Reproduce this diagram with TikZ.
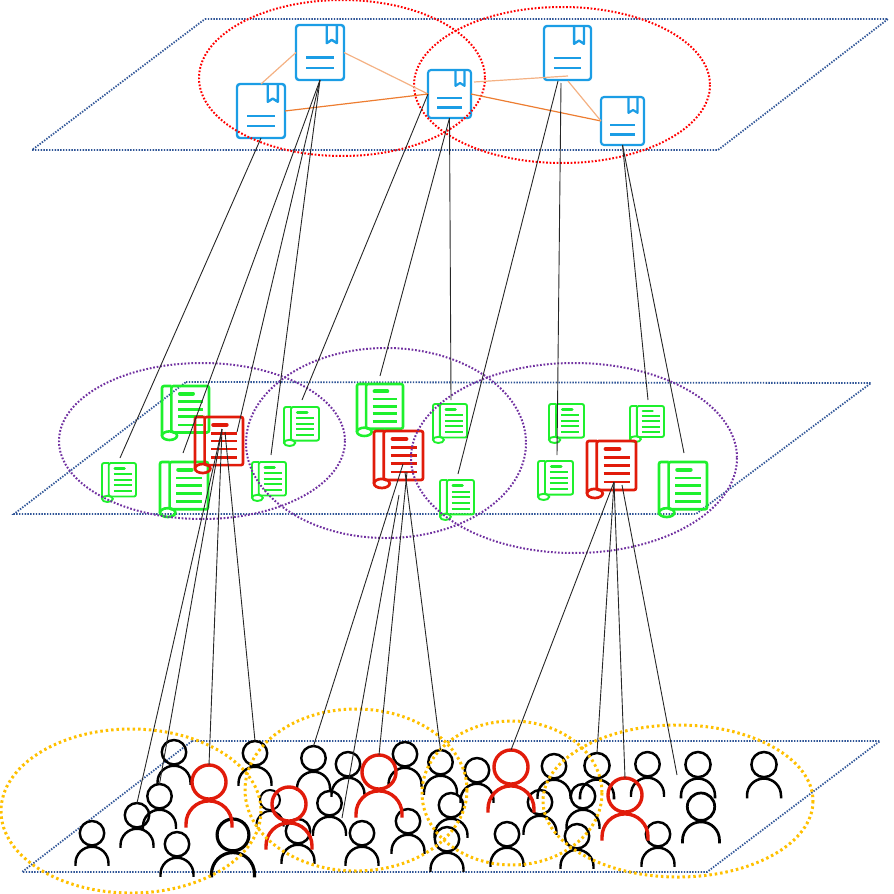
\documentclass[tikz,border=0pt]{standalone}
\definecolor{planeblue}{RGB}{47,85,151}
\definecolor{bookblue}{RGB}{27,157,229}
\definecolor{scrollgreen}{RGB}{30,240,45}
\definecolor{iconred}{RGB}{225,27,10}
\definecolor{ringpurple}{RGB}{112,48,160}
\definecolor{ringgold}{RGB}{255,192,0}
\definecolor{linklight}{RGB}{244,177,131}
\definecolor{linkdark}{RGB}{237,125,49}
\tikzset{
  plane/.style={draw=planeblue,line width=1.8pt,dash pattern=on 1.4pt off 1.4pt},
  redring/.style={draw=red,line width=2pt,dash pattern=on 1.7pt off 1.8pt},
  purplering/.style={draw=ringpurple,line width=2pt,dash pattern=on 1.7pt off 1.8pt},
  goldring/.style={draw=ringgold,line width=3pt,dash pattern=on 2.5pt off 2.9pt},
  softlink/.style={linklight,line width=1.2pt},
  hardlink/.style={linkdark,line width=1.2pt},
  drop/.style={black!85,line width=0.9pt},
  iconbox/.style={inner sep=0pt,outer sep=0pt}
}
% book: name, left, top, width, height
\newcommand{\bookicon}[5]{
  \node[iconbox,minimum width=#4pt,minimum height=#5pt] (#1) at (#2+#4/2,#3+#5/2) {};
  \begin{scope}[shift={(#2,#3)},xscale=#4,yscale=#5,bookblue,line width=#4/20*1pt]
    \draw[rounded corners=3pt] (0,0) rectangle (1,1);
    \draw[line join=round] (.64,0) -- (.64,.33) -- (.745,.27) -- (.85,.33) -- (.85,0);
    \draw (.21,.59) -- (.79,.59);
    \draw (.21,.78) -- (.79,.78);
  \end{scope}
}
% scroll: name, left, top, width, height, colour
\newcommand{\scrollicon}[6]{
  \node[iconbox,minimum width=#4pt,minimum height=#5pt] (#1) at (#2+#4/2,#3+#5/2) {};
  \begin{scope}[shift={(#2,#3)},xscale=#4,yscale=#5,#6,line width=#4/18*1pt]
    \draw[rounded corners=2pt] (.2,0) rectangle (1,.86);
    \draw[rounded corners=2pt] (.2,0) -- (0,0) -- (0,.92);
    \draw (.16,.92) ellipse [x radius=.16,y radius=.08];
    \draw[line width=#4/12*1pt,line cap=round] (.38,.14) -- (.66,.14);
    \draw[line width=#4/17*1pt] (.34,.29) -- (.87,.29);
    \draw[line width=#4/17*1pt] (.34,.43) -- (.87,.43);
    \draw[line width=#4/17*1pt] (.34,.57) -- (.87,.57);
    \draw[line width=#4/17*1pt] (.34,.72) -- (.87,.72);
  \end{scope}
}
% person: name, centre, top, width, colour
\newcommand{\personicon}[5]{
  \node[iconbox,minimum width=#4pt,minimum height=1.36*#4pt] (#1) at (#2,#3+0.68*#4) {};
  \begin{scope}[shift={(#2,#3)},scale=#4,#5,line width=#4/13.5*1pt]
    \draw (0,.37) circle [radius=.37];
    \draw (-.5,1.36) -- (-.5,1.28) arc [start angle=180,end angle=360,radius=.5] -- (.5,1.36);
  \end{scope}
}
\begin{document}
\begin{tikzpicture}[x=1pt,y=1pt,yscale=-1,xscale=1]
\useasboundingbox (0,0) rectangle (894,894);

%Planes
\draw[plane] (205,19) -- (888,19) -- (718,150) -- (32,150) -- cycle;
\draw[plane] (186,382) -- (871,383) -- (696,514) -- (14,514) -- cycle;
\draw[plane] (192,741) -- (880,741) -- (707,872) -- (22,872) -- cycle;

%People
\personicon{pa}{92}{821}{33}{black}
\personicon{pb}{137}{803}{33}{black}
\personicon{pc}{159.5}{784}{33}{black}
\personicon{pd}{174}{740}{33}{black}
\personicon{pe}{177}{832}{33}{black}
\personicon{pf}{233}{819}{43}{black}
\personicon{pg}{255}{741}{33}{black}
\personicon{ph}{270}{790}{27}{black}
\personicon{pi}{298}{819}{33}{black}
\personicon{pj}{313.5}{746}{33}{black}
\personicon{pk}{348}{752}{33}{black}
\personicon{pl}{329.5}{791}{33}{black}
\personicon{pm}{362}{821}{33}{black}
\personicon{pn}{405}{742}{33}{black}
\personicon{po}{408}{809}{33}{black}
\personicon{pp}{440.5}{750}{33}{black}
\personicon{pq}{451}{793}{33}{black}
\personicon{pr}{447}{827}{33}{black}
\personicon{ps}{477}{758}{33}{black}
\personicon{pt}{554}{754}{33}{black}
\personicon{pu}{540}{790}{33}{black}
\personicon{pv}{507}{822}{33}{black}
\personicon{pw}{597}{753}{34}{black}
\personicon{px}{583}{784}{33}{black}
\personicon{py}{577}{824}{33}{black}
\personicon{pz}{647.5}{752}{33}{black}
\personicon{qa}{658}{822}{33}{black}
\personicon{qb}{698}{752}{34}{black}
\personicon{qc}{701}{793}{37}{black}
\personicon{qd}{764}{752}{34}{black}
\personicon{leadA}{209}{765}{46}{iconred}
\personicon{leadB}{289}{787}{46}{iconred}
\personicon{leadC}{379}{755}{46}{iconred}
\personicon{leadD}{511}{750}{46}{iconred}
\personicon{leadE}{625}{778}{46}{iconred}

%Scrolls
\scrollicon{sa}{162}{386}{47}{54}{scrollgreen}
\scrollicon{sb}{102}{463}{34}{39}{scrollgreen}
\scrollicon{sc}{160}{462}{48}{55}{scrollgreen}
\scrollicon{sd}{252}{462}{34}{39}{scrollgreen}
\scrollicon{se}{284}{407}{35}{39}{scrollgreen}
\scrollicon{sf}{357}{384}{46}{52}{scrollgreen}
\scrollicon{sg}{433}{404}{34}{39}{scrollgreen}
\scrollicon{sh}{440}{480}{34}{40}{scrollgreen}
\scrollicon{si}{549}{404}{35}{39}{scrollgreen}
\scrollicon{sj}{538}{461}{35}{39}{scrollgreen}
\scrollicon{sk}{630}{406}{34}{36}{scrollgreen}
\scrollicon{sl}{659}{462}{48}{55}{scrollgreen}
\scrollicon{topicA}{195}{417}{48}{56}{iconred}
\scrollicon{topicB}{374}{431}{49}{57}{iconred}
\scrollicon{topicC}{587}{441}{49}{57}{iconred}

%Books
\bookicon{ba}{237}{84}{48}{54}
\bookicon{bb}{296}{25}{48}{55}
\bookicon{bc}{428}{70}{43}{48}
\bookicon{bd}{544}{26}{47}{54}
\bookicon{be}{601}{97}{43}{48}

%Rings
\draw[redring] (342,78) ellipse [x radius=143,y radius=78];
\draw[redring] (562,85) ellipse [x radius=148,y radius=78];
\draw[purplering] (202,441) ellipse [x radius=143,y radius=78];
\draw[purplering] (386,443) ellipse [x radius=140,y radius=95];
\draw[purplering] (574,458) ellipse [x radius=163,y radius=95];
\draw[goldring] (131,811) ellipse [x radius=130,y radius=82];
\draw[goldring] (356,790) ellipse [x radius=111,y radius=81];
\draw[goldring] (512,793) ellipse [x radius=90,y radius=72];
\draw[goldring] (678,801) ellipse [x radius=135,y radius=76];

%Free ends
\coordinate (bcout) at (474,82);
\coordinate (bdin) at (568,76);
\coordinate (bdlow) at (568,81);
\coordinate (bdleft) at (558,81);
\coordinate (bdmid) at (561,83);
\coordinate (sbend) at (120,458);
\coordinate (scend) at (183,453);
\coordinate (taend) at (237,432);
\coordinate (sdend) at (271,455);
\coordinate (seend) at (302,400);
\coordinate (sfend) at (380,376);
\coordinate (sgend) at (451,400);
\coordinate (shend) at (458,474);
\coordinate (sjend) at (557,455);
\coordinate (skend) at (648,400);
\coordinate (slend) at (684,453);
\coordinate (taapex) at (222,429);
\coordinate (taside) at (225,432);
\coordinate (tbapex) at (403,464);
\coordinate (tblow) at (399,495);
\coordinate (tbmid) at (407,472);
\coordinate (tbside) at (405,472);
\coordinate (tcapex) at (614,482);
\coordinate (tcside) at (622,485);
\coordinate (pkend) at (342,818);
\coordinate (qbend) at (677,775);

%Book links
\draw[softlink] (ba.north) -- (bb.west);
\draw[softlink] (bb.east) -- (bc.west);
\draw[hardlink] (ba.east) -- (bc.west);
\draw[softlink] (bcout) -- (bdin);
\draw[hardlink] (bc.east) -- (be.west);
\draw[softlink] (bdlow) -- (be.west);

%Straight Lines
\draw[drop] (ba.south) -- (sbend);
\draw[drop] (bb.south) -- (scend);
\draw[drop] (bb.south) -- (taend);
\draw[drop] (bb.south) -- (sdend);
\draw[drop] (bc.west) -- (seend);
\draw[drop] (bc.south) -- (sfend);
\draw[drop] (bc.south) -- (sgend);
\draw[drop] (bdleft) -- (shend);
\draw[drop] (bdmid) -- (sjend);
\draw[drop] (be.south) -- (skend);
\draw[drop] (be.south) -- (slend);
\draw[drop] (taapex) -- (pb.north);
\draw[drop] (taapex) -- (pc.north);
\draw[drop] (taapex) -- (leadA.north);
\draw[drop] (taside) -- (pg.north);
\draw[drop] (tbapex) -- (pj.north);
\draw[drop] (tblow) -- (pkend);
\draw[drop] (tbmid) -- (leadC.north);
\draw[drop] (tbside) -- (pp.north);
\draw[drop] (tcapex) -- (leadD.north);
\draw[drop] (tcapex) -- (pw.north);
\draw[drop] (tcapex) -- (leadE.north);
\draw[drop] (tcside) -- (qbend);

\end{tikzpicture}
\end{document}
